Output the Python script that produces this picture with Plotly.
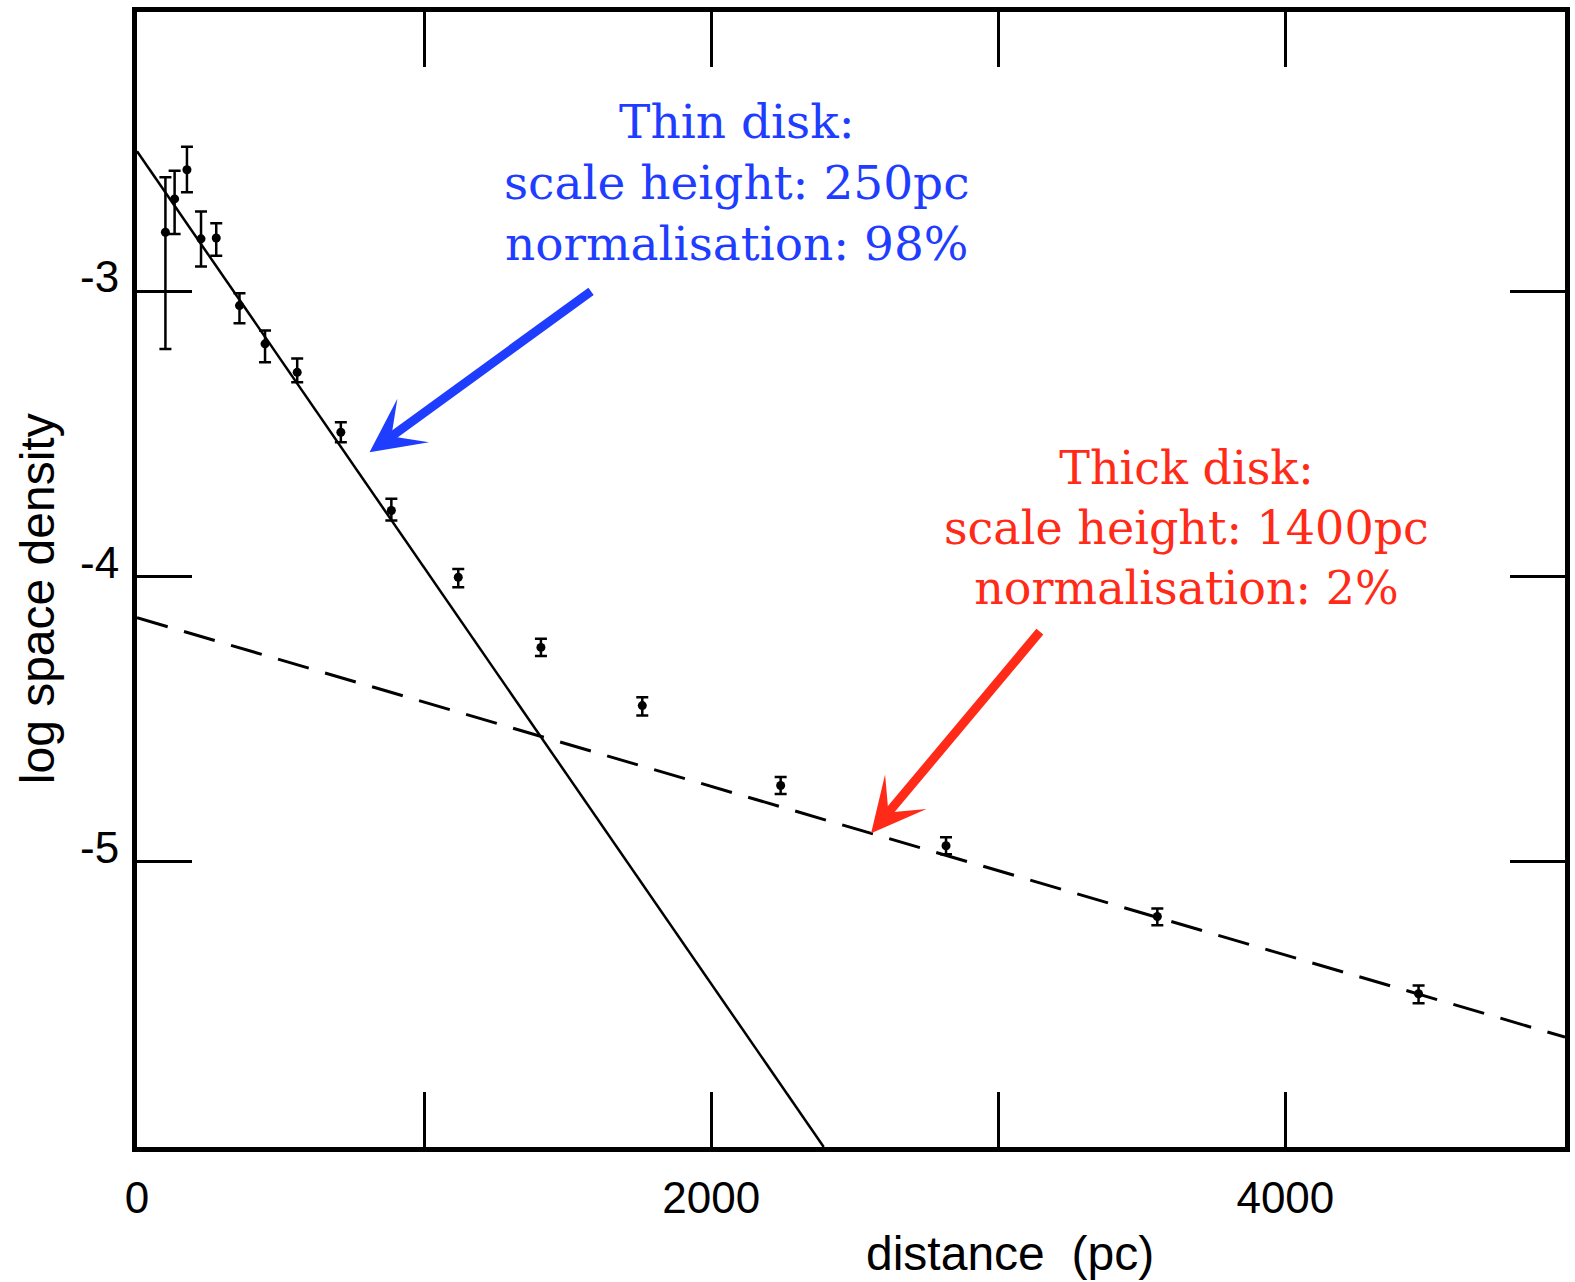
import plotly.graph_objects as go

# Measured star counts: distance from the plane (pc) vs log space density
distance_pc = [99, 131, 174, 223, 276, 357, 446, 558, 710, 886,
               1119, 1407, 1760, 2242, 2818, 3554, 4464]
log_density = [-2.794, -2.677, -2.575, -2.817, -2.814, -3.051, -3.185, -3.285,
               -3.495, -3.769, -4.003, -4.249, -4.453, -4.733, -4.944, -5.192, -5.463]
err_upper = [0.193, 0.099, 0.081, 0.096, 0.052, 0.043, 0.047, 0.049,
             0.035, 0.041, 0.029, 0.030, 0.029, 0.030, 0.030, 0.028, 0.029]
err_lower = [0.409, 0.123, 0.079, 0.097, 0.062, 0.062, 0.065, 0.035,
             0.035, 0.035, 0.035, 0.030, 0.035, 0.030, 0.030, 0.031, 0.033]

# Exponential disk fits (straight lines in log density)
thin_x = [0, 2392]
thin_y = [-2.51, -6.0]
thick_x = [0, 4974]
thick_y = [-4.145, -5.615]

x_tickvals = [0, 1000, 2000, 3000, 4000]
x_ticktext = ["0", "", "2000", "", "4000"]
y_tickvals = [-3, -4, -5]
y_ticktext = ["-3", "-4", "-5"]

BLUE = "#1f3dff"
RED = "#ff2a17"
SERIF = "DejaVu Serif, Liberation Serif, serif"
SANS = "Liberation Sans, Arial, sans-serif"

fig = go.Figure()

fig.add_trace(go.Scatter(
    x=thin_x, y=thin_y, mode="lines",
    line=dict(color="black", width=2.5), showlegend=False, hoverinfo="skip"))

fig.add_trace(go.Scatter(
    x=thick_x, y=thick_y, mode="lines",
    line=dict(color="black", width=3, dash="32px,17px"),
    showlegend=False, hoverinfo="skip"))

fig.add_trace(go.Scatter(
    x=distance_pc, y=log_density, mode="markers",
    marker=dict(color="black", size=9, symbol="circle"),
    error_y=dict(type="data", symmetric=False, array=err_upper,
                 arrayminus=err_lower, color="black", thickness=2.5, width=6),
    showlegend=False))

axis_common = dict(
    showline=True, linecolor="black", linewidth=5, mirror="allticks",
    ticks="inside", ticklen=55, tickwidth=2.5, tickcolor="black",
    showgrid=False, zeroline=False,
    tickfont=dict(family=SANS, size=44, color="black"),
)

fig.update_xaxes(range=[0, 4974], tickmode="array", tickvals=x_tickvals,
                 ticktext=x_ticktext, ticklabelstandoff=8, **axis_common)
fig.update_yaxes(range=[-6.0, -2.022], tickmode="array", tickvals=y_tickvals,
                 ticktext=y_ticktext, ticklabelshift=-14, ticklabelstandoff=4,
                 **axis_common)

# Axis titles
fig.add_annotation(text="distance \u00a0(pc)", xref="x", yref="paper",
                   x=3040, y=-0.094, yanchor="middle", xanchor="center",
                   showarrow=False, font=dict(family=SANS, size=48, color="black"))
fig.add_annotation(text="log space density", xref="paper", yref="y",
                   x=-0.07, y=-4.08, textangle=-90, xanchor="center",
                   yanchor="middle", showarrow=False,
                   font=dict(family=SANS, size=48, color="black"))

# Component labels
fig.add_annotation(text="Thin disk:<br>scale height: 250pc<br>normalisation: 98%",
                   x=2090, y=-2.620, xanchor="center", yanchor="middle",
                   showarrow=False, align="center",
                   font=dict(family=SERIF, size=47, color=BLUE))
fig.add_annotation(text="Thick disk:<br>scale height: 1400pc<br>normalisation: 2%",
                   x=3657, y=-3.830, xanchor="center", yanchor="middle",
                   showarrow=False, align="center",
                   font=dict(family=SERIF, size=46, color=RED))

# Arrows pointing at each fitted line
fig.add_annotation(x=810, y=-3.565, ax=223, ay=-162, axref="pixel", ayref="pixel",
                   text="", showarrow=True, arrowhead=3, arrowsize=1.0,
                   arrowwidth=9, arrowcolor=BLUE, standoff=0)
fig.add_annotation(x=2557, y=-4.900, ax=170, ay=-203, axref="pixel", ayref="pixel",
                   text="", showarrow=True, arrowhead=3, arrowsize=1.0,
                   arrowwidth=9, arrowcolor=RED, standoff=0)

fig.update_layout(
    width=1575, height=1282,
    margin=dict(l=137, r=5, t=12, b=135),
    paper_bgcolor="white", plot_bgcolor="white",
)

fig.write_html("out.html")
